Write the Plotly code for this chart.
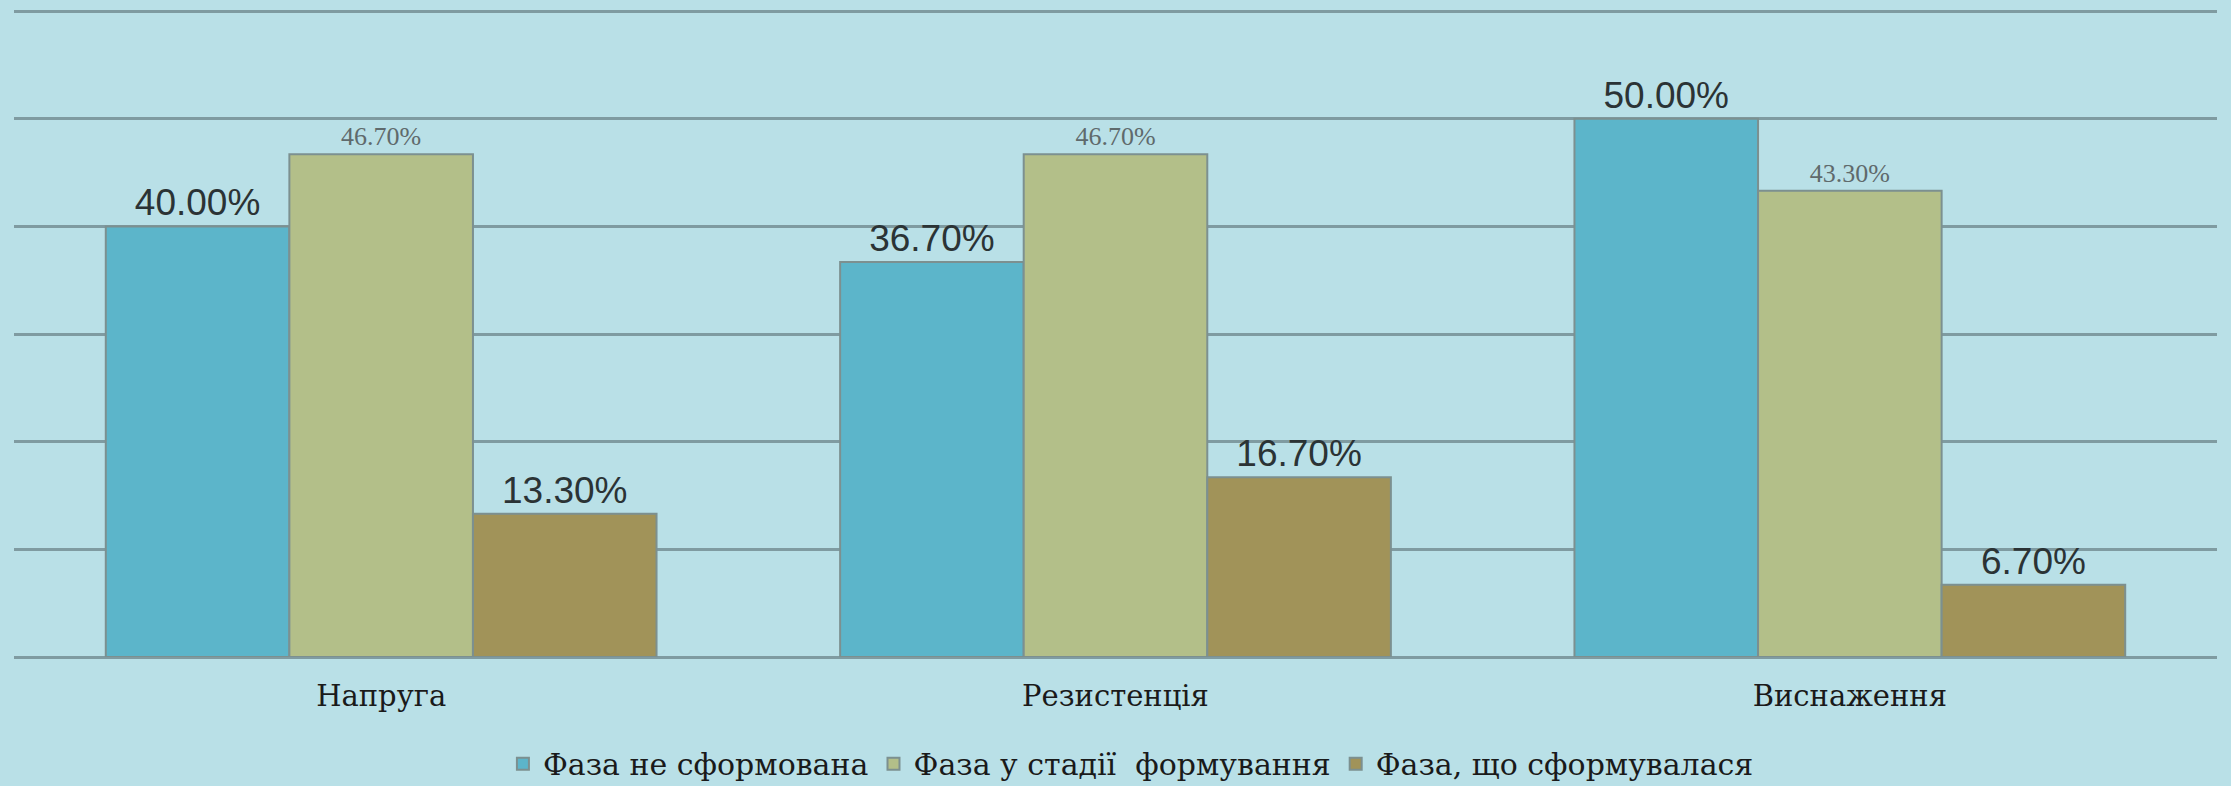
import plotly.graph_objects as go

categories = ["Напруга", "Резистенція", "Виснаження"]
series_names = ["Фаза не сформована", "Фаза у стадії  формування", "Фаза, що сформувалася"]
values_not_formed = [40.00, 36.70, 50.00]
values_forming = [46.70, 46.70, 43.30]
values_formed = [13.30, 16.70, 6.70]

colors = ["#5cb5ca", "#b3bf89", "#a19359"]
label_fonts = [
    dict(family="Liberation Sans", size=37, color="#2b3335"),
    dict(family="Liberation Serif", size=26, color="#5f6a6c"),
    dict(family="Liberation Sans", size=37, color="#2b3335"),
]

fig = go.Figure()
for name, vals, col, lf in zip(series_names,
                               [values_not_formed, values_forming, values_formed],
                               colors, label_fonts):
    fig.add_trace(go.Bar(
        name=name,
        x=categories,
        y=vals,
        marker=dict(color=col, line=dict(color="#7c9090", width=2)),
        text=[f"{v:.2f}%" for v in vals],
        textposition="outside",
        outsidetextfont=lf,
        cliponaxis=False,
    ))

fig.update_layout(
    width=2231,
    height=786,
    margin=dict(l=14, r=14, t=10, b=129, autoexpand=False),
    paper_bgcolor="#b9e0e7",
    plot_bgcolor="#b9e0e7",
    barmode="group",
    bargap=0.25,
    bargroupgap=0,
    showlegend=True,
    legend=dict(
        orientation="h",
        x=0.507, xanchor="center",
        y=-0.165, yanchor="middle",
        font=dict(family="DejaVu Serif", size=30, color="#1a1a1a"),
        bgcolor="rgba(0,0,0,0)",
        itemwidth=30,
    ),
    xaxis=dict(
        showgrid=False,
        showline=False,
        ticks="outside",
        ticklen=13,
        tickcolor="rgba(0,0,0,0)",
        tickfont=dict(family="DejaVu Serif", size=29, color="#1a1a1a"),
    ),
    yaxis=dict(
        range=[0, 60.1],
        tickvals=[0, 10, 20, 30, 40, 50, 60],
        showticklabels=False,
        showgrid=True,
        gridcolor="#7f9ba1",
        gridwidth=3,
        zeroline=True,
        zerolinecolor="#7f9ba1",
        zerolinewidth=3,
        showline=False,
    ),
)

fig.write_html("out.html", config={"displayModeBar": False},
               post_script="document.body.style.margin='0px';")
